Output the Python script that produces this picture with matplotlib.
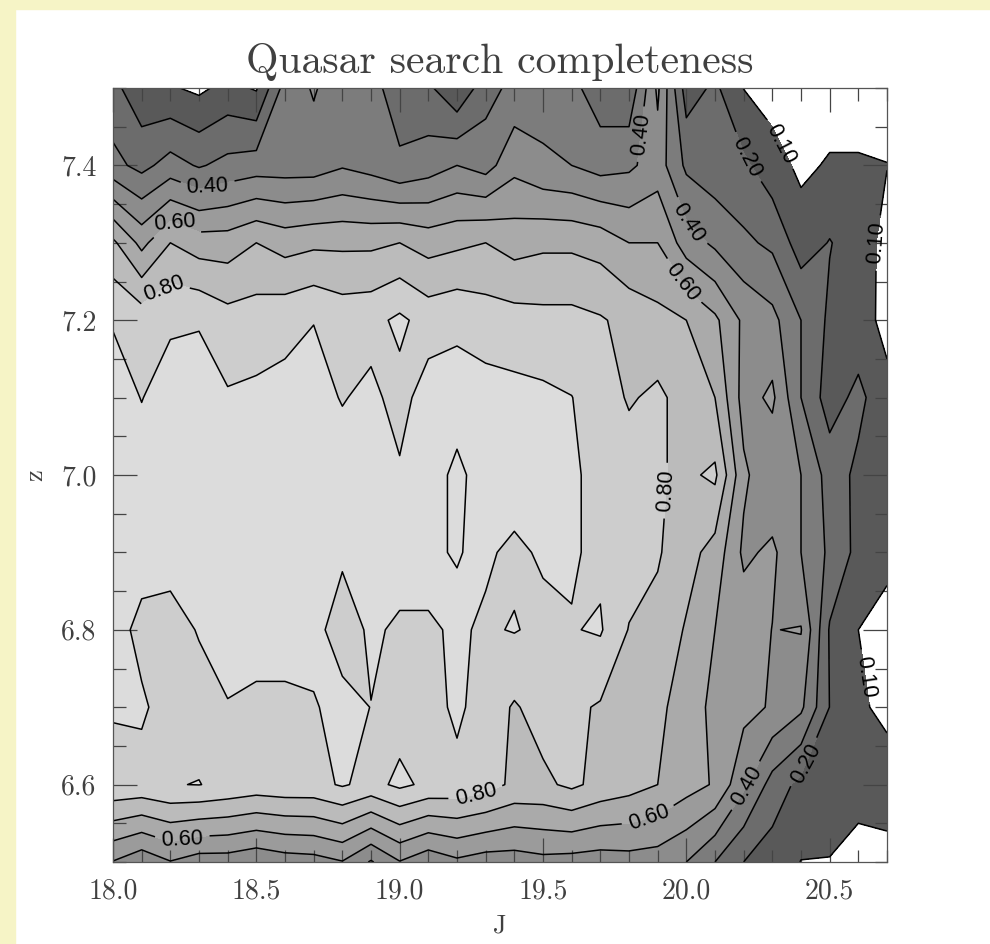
import numpy as np
import matplotlib
matplotlib.use("Agg")
import matplotlib.pyplot as plt
from matplotlib.patches import Rectangle

plt.rcParams["axes.formatter.use_mathtext"] = True

# grid of the completeness map
j_mag = [18.0, 18.1, 18.2, 18.3, 18.4, 18.5, 18.6, 18.7, 18.8, 18.9,
         19.0, 19.1, 19.2, 19.3, 19.4, 19.5, 19.6, 19.7, 19.8, 19.9,
         20.0, 20.1, 20.2, 20.3, 20.4, 20.5, 20.6, 20.7]
z_red = [6.5, 6.6, 6.7, 6.8, 6.9, 7.0, 7.1, 7.2, 7.3, 7.4, 7.5]

# one row per redshift (z = 6.5 ... 7.5), one value per J column
completeness = [
    [0.495, 0.43, 0.495, 0.45, 0.45, 0.42, 0.45, 0.46, 0.495, 0.39, 0.495, 0.43, 0.48, 0.45,
     0.45, 0.47, 0.46, 0.45, 0.46, 0.45, 0.40, 0.30, 0.20, 0.15, 0.098, 0.095, 0.06, 0.06],
    [0.88, 0.875, 0.897, 0.902, 0.88, 0.86, 0.87, 0.87, 0.91, 0.87, 0.92, 0.88, 0.87, 0.84,
     0.78, 0.78, 0.82, 0.77, 0.74, 0.70, 0.64, 0.59, 0.42, 0.26, 0.17, 0.17, 0.14, 0.16],
    [0.905, 0.91, 0.87, 0.87, 0.895, 0.89, 0.89, 0.895, 0.92, 0.899, 0.86, 0.86, 0.92, 0.853,
     0.79, 0.84, 0.82, 0.79, 0.76, 0.72, 0.66, 0.57, 0.53, 0.49, 0.42, 0.198, 0.12, 0.07],
    [0.93, 0.88, 0.87, 0.905, 0.94, 0.92, 0.92, 0.92, 0.87, 0.91, 0.89, 0.89, 0.91, 0.89,
     0.905, 0.88, 0.895, 0.91, 0.795, 0.77, 0.69, 0.60, 0.56, 0.498, 0.505, 0.19, 0.10, 0.06],
    [0.94, 0.93, 0.93, 0.93, 0.94, 0.94, 0.94, 0.93, 0.91, 0.93, 0.93, 0.93, 0.96, 0.91,
     0.885, 0.91, 0.91, 0.88, 0.85, 0.81, 0.74, 0.66, 0.48, 0.52, 0.40, 0.28, 0.17, 0.13],
    [0.94, 0.93, 0.94, 0.94, 0.94, 0.94, 0.94, 0.94, 0.94, 0.94, 0.91, 0.94, 0.955, 0.94,
     0.94, 0.93, 0.91, 0.88, 0.85, 0.81, 0.78, 0.82, 0.52, 0.42, 0.40, 0.26, 0.174, 0.15],
    [0.93, 0.898, 0.93, 0.93, 0.91, 0.92, 0.93, 0.93, 0.895, 0.92, 0.87, 0.94, 0.94, 0.94,
     0.93, 0.92, 0.902, 0.85, 0.79, 0.82, 0.76, 0.70, 0.46, 0.52, 0.30, 0.15, 0.23, 0.12],
    [0.895, 0.86, 0.89, 0.895, 0.84, 0.85, 0.87, 0.898, 0.86, 0.87, 0.92, 0.86, 0.88, 0.85,
     0.84, 0.83, 0.83, 0.81, 0.77, 0.73, 0.70, 0.62, 0.48, 0.43, 0.30, 0.18, 0.13, 0.08],
    [0.72, 0.57, 0.70, 0.65, 0.65, 0.70, 0.66, 0.68, 0.68, 0.68, 0.70, 0.66, 0.68, 0.70,
     0.66, 0.68, 0.68, 0.66, 0.60, 0.60, 0.45, 0.38, 0.32, 0.28, 0.15, 0.205, 0.15, 0.07],
    [0.33, 0.27, 0.34, 0.29, 0.33, 0.35, 0.35, 0.35, 0.39, 0.36, 0.31, 0.35, 0.40, 0.36,
     0.47, 0.42, 0.40, 0.36, 0.38, 0.45, 0.28, 0.24, 0.22, 0.14, 0.08, 0.11, 0.11, 0.102],
    [0.23, 0.13, 0.11, 0.08, 0.13, 0.09, 0.34, 0.41, 0.34, 0.32, 0.27, 0.22, 0.11, 0.26,
     0.33, 0.35, 0.33, 0.24, 0.22, 0.52, 0.15, 0.22, 0.098, 0.06, 0.05, 0.05, 0.05, 0.05],
]

fill_levels = [0.1, 0.2, 0.3, 0.4, 0.5, 0.6, 0.7, 0.8, 0.9, 1.01]
band_colors = ["#595959", "#6c6c6c", "#7c7c7c", "#8c8c8c", "#9b9b9b",
               "#aaaaaa", "#bbbbbb", "#cdcdcd", "#dcdcdc"]
plain_levels = [0.3, 0.5, 0.7, 0.9, 0.95]

# contour label spots (J, z) for each labelled level
label_spots = {
    0.1: [(20.34, 7.43), (20.62, 7.30), (20.64, 6.74)],
    0.2: [(20.21, 7.41), (20.40, 6.63)],
    0.4: [(18.33, 7.37), (19.85, 7.44), (20.02, 7.33), (20.20, 6.60)],
    0.6: [(18.22, 7.33), (19.99, 7.25), (19.86, 6.57), (18.24, 6.53)],
    0.8: [(18.18, 7.24), (19.92, 6.98), (19.27, 6.58)],
}

J, Z = np.meshgrid(j_mag, z_red)
C = np.array(completeness)

fig = plt.figure(figsize=(9.9, 9.44), dpi=100)
fig.patches.append(Rectangle((0, 0), 15 / 990, 1, transform=fig.transFigure,
                             color="#f6f4c6", zorder=-5))
fig.patches.append(Rectangle((0, 1 - 9 / 944), 1, 9 / 944, transform=fig.transFigure,
                             color="#f6f4c6", zorder=-5))

ax = fig.add_axes([113 / 990, 1 - 862 / 944, 774 / 990, 774 / 944])
ax.contourf(J, Z, C, levels=fill_levels, colors=band_colors)
ax.contour(J, Z, C, levels=plain_levels, colors="black", linewidths=1.1)
for lev, spots in label_spots.items():
    cl = ax.contour(J, Z, C, levels=[lev], colors="black", linewidths=1.1)
    texts = ax.clabel(cl, manual=spots, inline=True, fmt="%.2f",
                      fontsize=15.5, inline_spacing=4)
    for t in texts:
        t.set_family("Liberation Sans")

ax.set_xlim(18.0, 20.7)
ax.set_ylim(6.5, 7.5)
ax.set_xticks([18.0, 18.5, 19.0, 19.5, 20.0, 20.5])
ax.set_xticks(np.arange(18.0, 20.71, 0.1), minor=True)
ax.set_yticks([6.6, 6.8, 7.0, 7.2, 7.4])
ax.set_yticks(np.arange(6.5, 7.51, 0.05), minor=True)
ax.set_xticklabels(["18.0", "18.5", "19.0", "19.5", "20.0", "20.5"])
ax.set_yticklabels(["6.6", "6.8", "7.0", "7.2", "7.4"])
ax.tick_params(which="both", direction="in", top=True, right=True,
               color="#444444", width=0.9, labelsize=20, pad=12)
ax.tick_params(which="major", length=17)
ax.tick_params(which="minor", length=9)
for lab in ax.get_xticklabels() + ax.get_yticklabels():
    lab.set_family("cmr10")
    lab.set_color("#404040")
for s in ax.spines.values():
    s.set_color("#555555")
    s.set_linewidth(0.9)

ax.set_title("Quasar search completeness", family="cmr10", fontsize=30,
             color="#404040", pad=11)
ax.set_xlabel("J", family="cmr10", fontsize=19, color="#404040", labelpad=6)
ax.set_ylabel("z", family="cmr10", fontsize=19, color="#404040", labelpad=10)

fig.savefig("out.png", dpi=100)
